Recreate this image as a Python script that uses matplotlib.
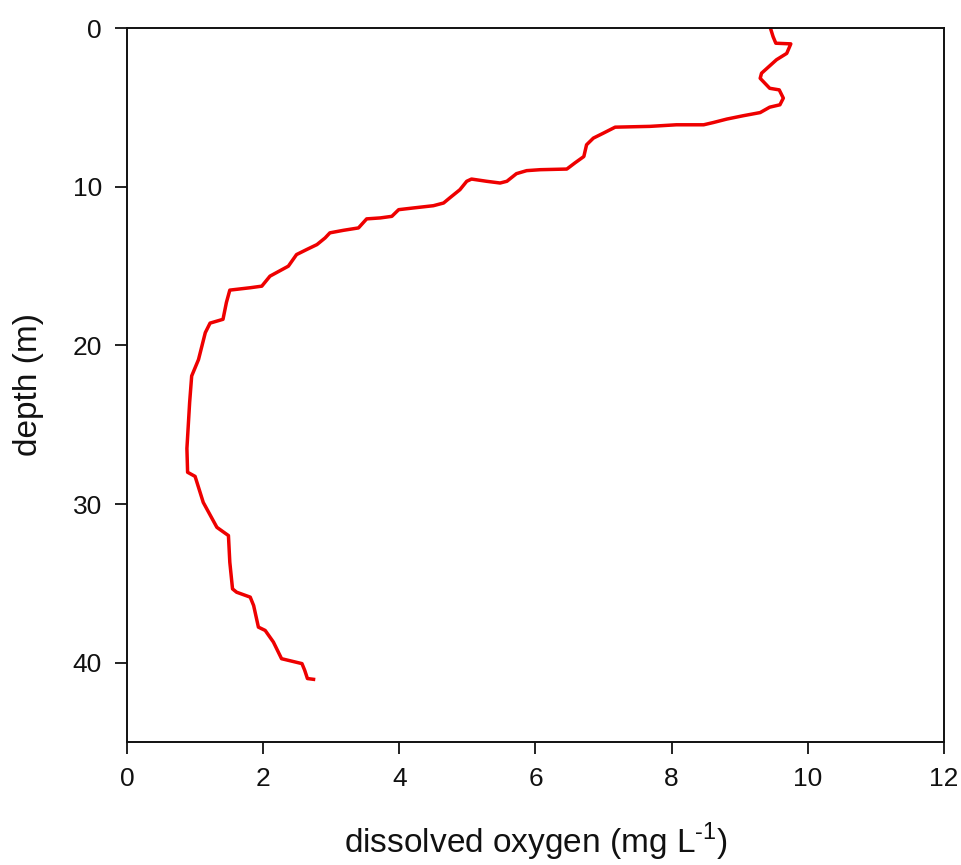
import matplotlib
matplotlib.use("Agg")
import matplotlib.pyplot as plt

# Dissolved oxygen profile (mg/L) vs depth (m)
oxygen = [9.45, 9.49, 9.53, 9.75, 9.69, 9.54, 9.32, 9.30, 9.44, 9.58, 9.64, 9.59,
          9.44, 9.30, 9.05, 8.81, 8.61, 8.47, 8.07, 7.68, 7.17, 7.00, 6.85, 6.75,
          6.71, 6.58, 6.46, 6.07, 5.87, 5.72, 5.58, 5.48, 5.28, 5.06, 4.99, 4.89,
          4.74, 4.65, 4.50, 4.21, 3.99, 3.89, 3.72, 3.52, 3.40, 3.18, 2.98, 2.91,
          2.79, 2.64, 2.49, 2.37, 2.10, 1.98, 1.81, 1.51, 1.46, 1.41, 1.22, 1.15,
          1.05, 0.95, 0.92, 0.88, 0.89, 0.89, 1.00, 1.12, 1.32, 1.49, 1.51, 1.55,
          1.61, 1.81, 1.86, 1.93, 2.03, 2.15, 2.27, 2.57, 2.61, 2.65, 2.74]
depth = [0.00, 0.55, 0.96, 1.00, 1.60, 2.00, 2.85, 3.17, 3.80, 3.90, 4.42, 4.84,
         4.99, 5.33, 5.53, 5.74, 5.96, 6.10, 6.10, 6.20, 6.25, 6.62, 6.94, 7.36,
         8.10, 8.50, 8.89, 8.93, 8.99, 9.18, 9.66, 9.77, 9.66, 9.52, 9.66, 10.19,
         10.71, 11.03, 11.20, 11.34, 11.45, 11.87, 11.97, 12.03, 12.60, 12.75, 12.91, 13.23,
         13.65, 13.96, 14.28, 15.01, 15.64, 16.27, 16.37, 16.52, 17.30, 18.36, 18.60, 19.20,
         20.90, 21.93, 23.60, 26.50, 28.00, 28.00, 28.26, 29.90, 31.47, 31.99, 33.67, 35.35,
         35.56, 35.87, 36.40, 37.76, 37.97, 38.70, 39.75, 40.06, 40.48, 41.00, 41.05]

x_ticks = [0, 2, 4, 6, 8, 10, 12]
y_ticks = [0, 10, 20, 30, 40]

plt.rcParams['font.family'] = ['Liberation Sans', 'DejaVu Sans']
plt.rcParams['mathtext.fontset'] = 'custom'
plt.rcParams['mathtext.rm'] = 'Liberation Sans'

fig = plt.figure(figsize=(9.62, 8.65), dpi=100)
ax = fig.add_axes([127/962, 1-742/865, (944-127)/962, (742-28)/865])

ax.plot(oxygen, depth, color='#ee0000', lw=2.5, solid_joinstyle='round')

ax.set_xlim(0, 12)
ax.set_ylim(45, 0)
ax.set_xticks(x_ticks)
ax.set_yticks(y_ticks)
ax.tick_params(axis='both', direction='out', length=8.6, width=1.3,
               colors='#111111', labelsize=19, pad=9.4)
for sp in ax.spines.values():
    sp.set_linewidth(1.4)
    sp.set_color('#111111')

ax.set_xlabel('dissolved oxygen (mg L$^{\\text{-1}}$)', fontsize=24, color='#111111')
ax.set_ylabel('depth (m)', fontsize=24, color='#111111')
ax.xaxis.set_label_coords(0.5, -0.1555)
ax.xaxis.label.set_va('baseline')
ax.yaxis.set_label_coords(-0.12, 0.5)
ax.yaxis.label.set_va('center')

fig.savefig('out.png', dpi=100)
